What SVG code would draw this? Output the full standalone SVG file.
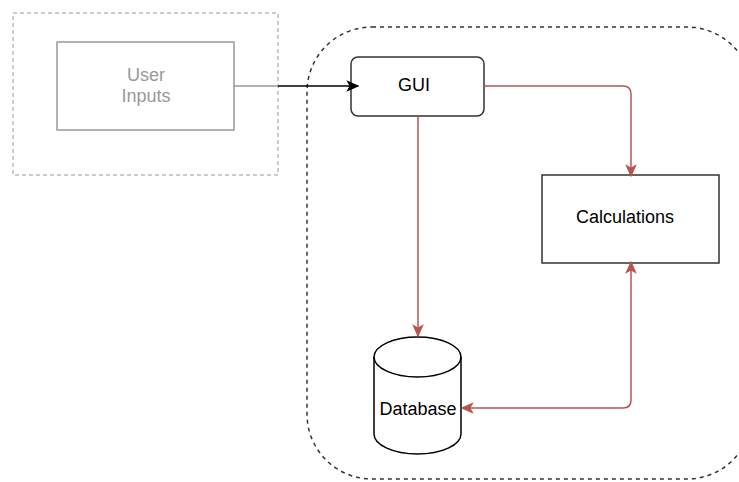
<svg xmlns="http://www.w3.org/2000/svg" width="739" height="482" viewBox="0 0 739 482">
<style>
.t{font-family:"Liberation Sans",Arial,sans-serif;font-size:18px;text-anchor:middle}
.red{fill:none;stroke:#b85450;stroke-width:1.5}
</style>
<defs>
<marker id="ar" viewBox="0 0 10 10" refX="9" refY="5" markerWidth="13" markerHeight="13" markerUnits="userSpaceOnUse" orient="auto-start-reverse"><path d="M0,0.5 L10,5 L0,9.5 L2.5,5 Z" fill="#b85450"/></marker>
<marker id="ab" viewBox="0 0 10 10" refX="9" refY="5" markerWidth="13" markerHeight="13" markerUnits="userSpaceOnUse" orient="auto"><path d="M0,0.5 L10,5 L0,9.5 L2.5,5 Z" fill="#000"/></marker>
</defs>
<rect width="739" height="482" fill="#fff"/>
<g id="inputs-group">
<rect x="13" y="13" width="265" height="162" fill="none" stroke="#999" stroke-width="1" stroke-dasharray="4,3"/>
</g>
<g id="system-group">
<rect x="307" y="27" width="445" height="452" rx="65" fill="none" stroke="#333" stroke-width="1.5" stroke-dasharray="4,4"/>
</g>
<g id="user-inputs">
<rect x="57" y="42" width="177" height="88" fill="#fff" stroke="#999" stroke-width="1.5"/>
<text class="t" x="146" y="81" fill="#999">User</text>
<text class="t" x="146" y="102" fill="#999">Inputs</text>
</g>
<g id="gui">
<rect x="351" y="57" width="133" height="59" rx="7" fill="#fff" stroke="#333" stroke-width="1.5"/>
<text class="t" x="414" y="91" fill="#000">GUI</text>
</g>
<g id="calculations">
<rect x="542" y="175" width="177" height="88" fill="#fff" stroke="#333" stroke-width="1.5"/>
<text class="t" x="625" y="223" fill="#000">Calculations</text>
</g>
<g id="database">
<path d="M374,357 A43.5,20 0 0 1 461,357 V434 A43.5,20 0 0 1 374,434 Z" fill="#fff" stroke="#000" stroke-width="1.5"/>
<path d="M374,357 A43.5,20 0 0 0 461,357" fill="none" stroke="#000" stroke-width="1.5"/>
<text class="t" x="418" y="415" fill="#000">Database</text>
</g>
<g id="connectors">
<path d="M234,86 H278" fill="none" stroke="#999" stroke-width="1.5"/>
<path d="M278,86 H358" fill="none" stroke="#000" stroke-width="1.5" marker-end="url(#ab)"/>
<path class="red" d="M484,86 H623 Q631,86 631,94 V176" marker-end="url(#ar)"/>
<path class="red" d="M418,116 V336" marker-end="url(#ar)"/>
<path class="red" d="M631,262 V400 Q631,408 623,408 H462" marker-start="url(#ar)" marker-end="url(#ar)"/>
</g>
</svg>
